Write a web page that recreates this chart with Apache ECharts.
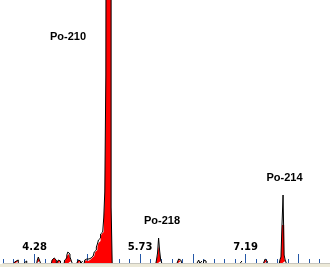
<!DOCTYPE html>
<html><head><meta charset="utf-8">
<script src="https://cdn.jsdelivr.net/npm/echarts@6/dist/echarts.min.js"></script>
<style>html,body{margin:0;padding:0;background:#fff;overflow:hidden}#c{width:330px;height:267px}</style>
</head><body><div id="c"></div>
<script>
// Channel position on the energy scale (0 = 4.28 MeV, 100 = 5.73 MeV, 200 = 7.19 MeV)
const channels = [-19,-18,-17,-16,-9,-8,3,4,5,17,18,19,20,22,23,24,29,30,31,32,33,34,35,41,42,43,45,
  48,49,50,51,52,53,54,55,56,57,58,59,60,61,62,63,64,65,66,67,68,69,70,71,72,73,
  116,117,118,119,120,136,137,138,139,155,156,158,161,162,196,218,219,220,233,234,235,236,237,238];
// Total spectrum (black outline), counts per channel; Po-210 goes off-scale
const totalCounts = [1,2,1,3,2,2,3,6,3,3,5,6,3,2,3,2,3,5,8,11,9,6,3,2,3,2,2,
  3,4,2,4,4,5,6,7,9,11,13,16,19,23,25,29,31,33,45,71,188,900,900,900,900,56,
  3,10,25,12,3,2,4,3,2,2,3,2,3,2,2,2,4,2,3,6,38,68,8,3];
// Gated spectrum (red fill)
const gatedCounts = [1,2,1,2,2,2,2,5,2,3,5,5,3,2,3,1,2,4,7,9,8,5,2,2,3,1,2,
  2,3,2,3,3,4,5,5,7,9,11,13,16,20,22,26,29,31,42,66,186,900,900,900,900,56,
  2,8,17,10,2,2,3,2,1,2,2,1,2,2,0,1,3,2,2,6,38,38,5,2];
const minorTicks = [-30,-20,-10,0,10,20,30,40,50,60,70,80,90,100,110,120,130,140,150,160,170,180,190,200,210,220,230,240,250,260,270,280];
const majorTicks = [0, 50, 100, 150, 200, 250];
const tickValues = [0, 100, 200];
const tickLabels = ['4.28', '5.73', '7.19'];
const peakNames = ['Po-210', 'Po-218', 'Po-214'];

// split the sparse channel list into contiguous runs, each padded with zero ends
function runs(counts) {
  const out = [];
  let cur = null;
  for (let i = 0; i < channels.length; i++) {
    const c = channels[i];
    if (!cur || c - channels[i - 1] > 1) {
      if (cur) { cur.push([channels[i - 1] + 1, 0]); out.push(cur); }
      cur = [[c - 1, 0]];
    }
    cur.push([c, counts[i]]);
  }
  cur.push([channels[channels.length - 1] + 1, 0]);
  out.push(cur);
  return out;
}

const series = [];
runs(gatedCounts).forEach(d => series.push({
  type: 'line', step: 'middle', data: d, showSymbol: false, symbol: 'none', z: 2,
  lineStyle: {width: 0, color: '#ff0000'}, areaStyle: {color: '#ff0000', opacity: 1}
}));
runs(totalCounts).forEach(d => series.push({
  type: 'line', step: 'middle', data: d, showSymbol: false, symbol: 'none', z: 3,
  lineStyle: {width: 1, color: '#000000'}
}));

const chart = echarts.init(document.getElementById('c'), null, {renderer: 'canvas'});
chart.setOption({
  animation: false,
  backgroundColor: '#ffffff',
  textStyle: {fontFamily: 'Liberation Sans'},
  grid: {left: 3, right: 0, top: 0, bottom: 4, containLabel: false},
  xAxis: [{
    type: 'value', min: -30, max: 280, position: 'bottom',
    axisLine: {show: true, onZero: false, lineStyle: {color: '#c8c6be', width: 1}},
    axisTick: {show: true, inside: true, length: 4, customValues: minorTicks, lineStyle: {color: '#2458a8', width: 1}},
    axisLabel: {show: false}, splitLine: {show: false}
  }, {
    type: 'value', min: -30, max: 280, position: 'bottom',
    axisLine: {show: false, onZero: false},
    axisTick: {show: true, inside: true, length: 9, customValues: majorTicks, lineStyle: {color: '#2458a8', width: 1}},
    axisLabel: {show: true, inside: true, margin: 11, color: '#000', customValues: tickValues,
      fontFamily: 'DejaVu Sans', fontWeight: 'bold', fontSize: 10,
      formatter: v => { const k = tickValues.indexOf(v); return k >= 0 ? tickLabels[k] : ''; }},
    splitLine: {show: false}
  }],
  yAxis: {type: 'value', min: 0, max: 263, show: false, splitLine: {show: false}},
  series: series,
  graphic: [
    {type: 'rect', left: 0, top: 264, shape: {width: 330, height: 3}, style: {fill: '#ece9d8'}, silent: true},
    {type: 'text', x: 68, y: 37, style: {text: peakNames[0], fill: '#000', font: 'bold 11px "Liberation Sans"', textAlign: 'center', textVerticalAlign: 'middle'}},
    {type: 'text', x: 162, y: 221, style: {text: peakNames[1], fill: '#000', font: 'bold 11px "Liberation Sans"', textAlign: 'center', textVerticalAlign: 'middle'}},
    {type: 'text', x: 284.5, y: 178, style: {text: peakNames[2], fill: '#000', font: 'bold 11px "Liberation Sans"', textAlign: 'center', textVerticalAlign: 'middle'}}
  ]
});
</script>
</body></html>
